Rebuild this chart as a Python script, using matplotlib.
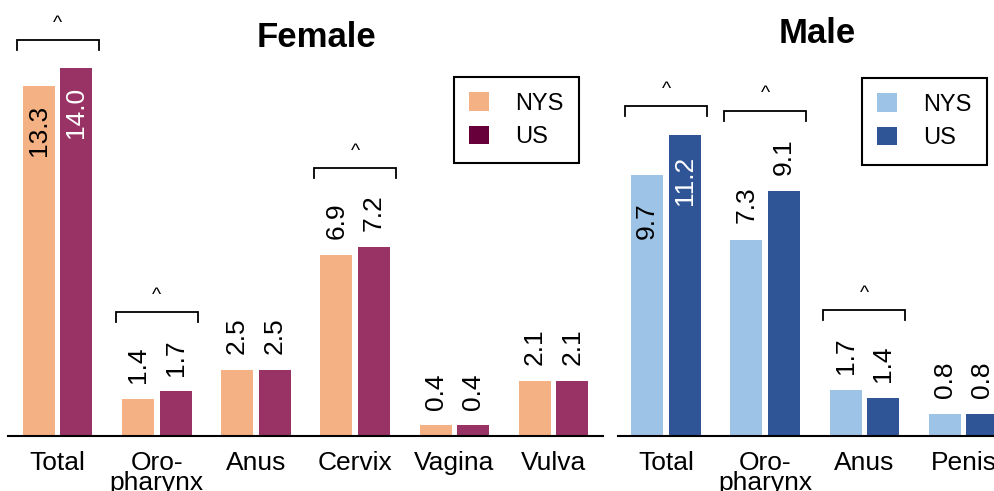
import matplotlib
matplotlib.use("Agg")
from matplotlib import pyplot as plt
from matplotlib.patches import Patch

plt.rcParams['font.family'] = ['Liberation Sans', 'DejaVu Sans']

# data
female_sites = ['Total', 'Oro-\npharynx', 'Anus', 'Cervix', 'Vagina', 'Vulva']
female_nys = [13.3, 1.4, 2.5, 6.9, 0.4, 2.1]
female_us = [14.0, 1.7, 2.5, 7.2, 0.4, 2.1]
female_sig = [True, True, False, True, False, False]

male_sites = ['Total', 'Oro-\npharynx', 'Anus', 'Penis']
male_nys = [9.7, 7.3, 1.7, 0.8]
male_us = [11.2, 9.1, 1.4, 0.8]
male_sig = [True, True, True, False]

female_colors = ['#F4B183', '#993366']
female_legend_colors = ['#F4B183', '#67003A']
male_colors = ['#9DC3E6', '#2F5597']
male_legend_colors = ['#9DC3E6', '#2F5597']

W, H = 995, 491
PITCH = 3.1
OFF = 0.59
BW = 1.0


def draw_panel(ax, sites, nys, us, sig, colors, xlim, ylim):
    centers = [i * PITCH for i in range(len(sites))]
    x_nys = [c - OFF for c in centers]
    x_us = [c + OFF for c in centers]
    ax.bar(x_nys, nys, width=BW, color=colors[0])
    ax.bar(x_us, us, width=BW, color=colors[1])

    # value labels: inside the tall bars, above the others
    for xs, vals, inside_color in ((x_nys, nys, 'black'), (x_us, us, 'white')):
        for x, v in zip(xs, vals):
            if v > 9.5:
                ax.text(x, v - 1.7, f'{v:.1f}', rotation=90, ha='center', va='center',
                        fontsize=19, color=inside_color)
            else:
                ax.text(x, v + 0.6, f'{v:.1f}', rotation=90, ha='center', va='bottom',
                        fontsize=19, color='black')

    # significance brackets
    for c, a, b, s in zip(centers, nys, us, sig):
        if not s:
            continue
        top = max(a, b)
        yb = top + (1.07 if top > 9.5 else 3.0)
        x0 = c - OFF - 0.69
        x1 = c + OFF + 0.69
        ax.plot([x0, x0, x1, x1], [yb - 0.38, yb, yb, yb - 0.38], color='black',
                lw=1.3, clip_on=False, solid_joinstyle='miter')
        ax.text(c, yb + 0.3, '^', ha='center', va='bottom', fontsize=14)

    ax.set_xlim(*xlim)
    ax.set_ylim(*ylim)
    ax.set_xticks(centers)
    ax.set_xticklabels(sites, fontsize=19, va='top', linespacing=0.8)
    ax.tick_params(axis='x', length=0, pad=10.5)
    ax.set_yticks([])
    for side in ('left', 'right', 'top'):
        ax.spines[side].set_visible(False)
    ax.spines['bottom'].set_linewidth(1.5)


fig = plt.figure(figsize=(W / 100, H / 100), dpi=100)
ax_f = fig.add_axes([8 / W, 55 / H, 595 / W, 436 / H])
ax_m = fig.add_axes([618 / W, 55 / H, 377 / W, 436 / H])

draw_panel(ax_f, female_sites, female_nys, female_us, female_sig, female_colors,
           (-1.55, -1.55 + 595 / 32), (0, 436 / 26.3))
draw_panel(ax_m, male_sites, male_nys, male_us, male_sig, male_colors,
           (-1.5, -1.5 + 377 / 32), (0, 436 / 26.9))

fig.text(317 / W, 1 - 47 / H, 'Female', ha='center', va='baseline', fontsize=25, fontweight='bold')
fig.text(817 / W, 1 - 43 / H, 'Male', ha='center', va='baseline', fontsize=25, fontweight='bold')

for colors, anchor in ((female_legend_colors, (454 / W, 1 - 77 / H)),
                       (male_legend_colors, (862 / W, 1 - 78 / H))):
    handles = [Patch(facecolor=colors[0], label='NYS'), Patch(facecolor=colors[1], label='US')]
    leg = fig.legend(handles=handles, loc='upper left', bbox_to_anchor=anchor,
                     borderaxespad=0, fontsize=17, fancybox=False, framealpha=1,
                     edgecolor='black', handlelength=0.85, handleheight=0.85,
                     handletextpad=1.1, borderpad=0.65, labelspacing=0.45)
    leg.get_frame().set_linewidth(1.5)

fig.savefig('out.png', dpi=100)
